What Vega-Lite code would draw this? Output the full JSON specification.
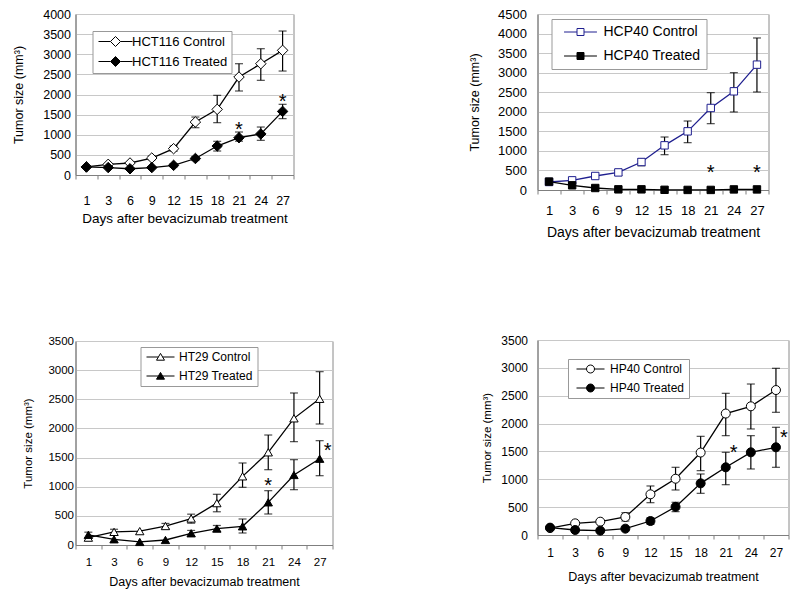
{
  "$schema": "https://vega.github.io/schema/vega-lite/v6.json",
  "background": "white",
  "padding": {"left": 11.5, "top": 7, "right": 5, "bottom": 5},
  "config": {
    "view": {"stroke": "#8a8a8a", "strokeWidth": 1},
    "font": "Liberation Sans",
    "axis": {"gridColor": "#c8c8c8", "domainColor": "#7f7f7f", "tickColor": "#7f7f7f", "labelColor": "black", "titleColor": "black", "titleFontWeight": "normal", "labelFont": "Liberation Sans", "titleFont": "Liberation Sans", "labelOverlap": false},
    "axisY": {"ticks": false, "grid": true, "titleBaseline": "middle", "format": "d"},
    "legend": {"labelFont": "Liberation Sans", "labelColor": "black", "strokeColor": "#999999", "fillColor": "white", "titleOrient": "left", "titleColor": "white"}
  },
  "datasets": {
    "p1": [
      {"day": 1, "series": "HCT116 Control", "size": 200},
      {"day": 3, "series": "HCT116 Control", "size": 265},
      {"day": 6, "series": "HCT116 Control", "size": 298},
      {"day": 9, "series": "HCT116 Control", "size": 422, "lo": 380, "hi": 470},
      {"day": 12, "series": "HCT116 Control", "size": 654, "lo": 590, "hi": 720},
      {"day": 15, "series": "HCT116 Control", "size": 1316, "lo": 1175, "hi": 1440},
      {"day": 18, "series": "HCT116 Control", "size": 1631, "lo": 1300, "hi": 1979},
      {"day": 21, "series": "HCT116 Control", "size": 2434, "lo": 2087, "hi": 2765},
      {"day": 24, "series": "HCT116 Control", "size": 2765, "lo": 2352, "hi": 3138},
      {"day": 27, "series": "HCT116 Control", "size": 3097, "lo": 2583, "hi": 3577},
      {"day": 1, "series": "HCT116 Treated", "size": 200},
      {"day": 3, "series": "HCT116 Treated", "size": 185},
      {"day": 6, "series": "HCT116 Treated", "size": 155},
      {"day": 9, "series": "HCT116 Treated", "size": 185},
      {"day": 12, "series": "HCT116 Treated", "size": 240, "lo": 200, "hi": 280},
      {"day": 15, "series": "HCT116 Treated", "size": 410, "lo": 360, "hi": 460},
      {"day": 18, "series": "HCT116 Treated", "size": 720, "lo": 596, "hi": 837},
      {"day": 21, "series": "HCT116 Treated", "size": 927, "lo": 840, "hi": 1068},
      {"day": 24, "series": "HCT116 Treated", "size": 1020, "lo": 861, "hi": 1192},
      {"day": 27, "series": "HCT116 Treated", "size": 1580, "lo": 1400, "hi": 1756}
    ],
    "p2": [
      {"day": 1, "series": "HCP40 Control", "size": 205},
      {"day": 3, "series": "HCP40 Control", "size": 247},
      {"day": 6, "series": "HCP40 Control", "size": 358},
      {"day": 9, "series": "HCP40 Control", "size": 450, "lo": 370, "hi": 520},
      {"day": 12, "series": "HCP40 Control", "size": 716, "lo": 620, "hi": 800},
      {"day": 15, "series": "HCP40 Control", "size": 1142, "lo": 903, "hi": 1355},
      {"day": 18, "series": "HCP40 Control", "size": 1500, "lo": 1210, "hi": 1764},
      {"day": 21, "series": "HCP40 Control", "size": 2097, "lo": 1696, "hi": 2489},
      {"day": 24, "series": "HCP40 Control", "size": 2523, "lo": 1995, "hi": 3000},
      {"day": 27, "series": "HCP40 Control", "size": 3205, "lo": 2506, "hi": 3887},
      {"day": 1, "series": "HCP40 Treated", "size": 215},
      {"day": 3, "series": "HCP40 Treated", "size": 120},
      {"day": 6, "series": "HCP40 Treated", "size": 51},
      {"day": 9, "series": "HCP40 Treated", "size": 17},
      {"day": 12, "series": "HCP40 Treated", "size": 17},
      {"day": 15, "series": "HCP40 Treated", "size": 5},
      {"day": 18, "series": "HCP40 Treated", "size": 2},
      {"day": 21, "series": "HCP40 Treated", "size": 2},
      {"day": 24, "series": "HCP40 Treated", "size": 15},
      {"day": 27, "series": "HCP40 Treated", "size": 15}
    ],
    "p3": [
      {"day": 1, "series": "HT29 Control", "size": 126},
      {"day": 3, "series": "HT29 Control", "size": 225, "lo": 170, "hi": 270},
      {"day": 6, "series": "HT29 Control", "size": 238},
      {"day": 9, "series": "HT29 Control", "size": 325, "lo": 280, "hi": 370},
      {"day": 12, "series": "HT29 Control", "size": 454, "lo": 374, "hi": 529},
      {"day": 15, "series": "HT29 Control", "size": 718, "lo": 570, "hi": 870},
      {"day": 18, "series": "HT29 Control", "size": 1178, "lo": 990, "hi": 1407},
      {"day": 21, "series": "HT29 Control", "size": 1590, "lo": 1292, "hi": 1887},
      {"day": 24, "series": "HT29 Control", "size": 2173, "lo": 1773, "hi": 2608},
      {"day": 27, "series": "HT29 Control", "size": 2508, "lo": 2076, "hi": 2974},
      {"day": 1, "series": "HT29 Treated", "size": 175, "lo": 120, "hi": 220},
      {"day": 3, "series": "HT29 Treated", "size": 98},
      {"day": 6, "series": "HT29 Treated", "size": 52},
      {"day": 9, "series": "HT29 Treated", "size": 86},
      {"day": 12, "series": "HT29 Treated", "size": 201, "lo": 150, "hi": 250},
      {"day": 15, "series": "HT29 Treated", "size": 282, "lo": 230, "hi": 335},
      {"day": 18, "series": "HT29 Treated", "size": 320, "lo": 206, "hi": 446},
      {"day": 21, "series": "HT29 Treated", "size": 732, "lo": 532, "hi": 932},
      {"day": 24, "series": "HT29 Treated", "size": 1201, "lo": 949, "hi": 1464},
      {"day": 27, "series": "HT29 Treated", "size": 1480, "lo": 1189, "hi": 1790}
    ],
    "p4": [
      {"day": 1, "series": "HP40 Control", "size": 125},
      {"day": 3, "series": "HP40 Control", "size": 209},
      {"day": 6, "series": "HP40 Control", "size": 239},
      {"day": 9, "series": "HP40 Control", "size": 323, "lo": 251, "hi": 400},
      {"day": 12, "series": "HP40 Control", "size": 730, "lo": 580, "hi": 880},
      {"day": 15, "series": "HP40 Control", "size": 1010, "lo": 808, "hi": 1215},
      {"day": 18, "series": "HP40 Control", "size": 1480, "lo": 1155, "hi": 1771},
      {"day": 21, "series": "HP40 Control", "size": 2180, "lo": 1783, "hi": 2543},
      {"day": 24, "series": "HP40 Control", "size": 2310, "lo": 1903, "hi": 2710},
      {"day": 27, "series": "HP40 Control", "size": 2602, "lo": 2202, "hi": 2992},
      {"day": 1, "series": "HP40 Treated", "size": 132},
      {"day": 3, "series": "HP40 Treated", "size": 90},
      {"day": 6, "series": "HP40 Treated", "size": 78},
      {"day": 9, "series": "HP40 Treated", "size": 114},
      {"day": 12, "series": "HP40 Treated", "size": 251, "lo": 191, "hi": 311},
      {"day": 15, "series": "HP40 Treated", "size": 505, "lo": 419, "hi": 587},
      {"day": 18, "series": "HP40 Treated", "size": 927, "lo": 748, "hi": 1095},
      {"day": 21, "series": "HP40 Treated", "size": 1215, "lo": 903, "hi": 1484},
      {"day": 24, "series": "HP40 Treated", "size": 1484, "lo": 1185, "hi": 1783},
      {"day": 27, "series": "HP40 Treated", "size": 1574, "lo": 1215, "hi": 1933}
    ],
    "s1": [{"day": 21, "y": 1250}, {"day": 27, "y": 1950}],
    "s2": [{"day": 21, "y": 550}, {"day": 27, "y": 550}],
    "s3c": [{"day": 21, "y": 1100}],
    "s3r": [{"day": 27, "y": 1700}],
    "s4r": [{"day": 21, "y": 1570}, {"day": 27, "y": 1830}]
  },
  "resolve": {"scale": {"x": "independent", "y": "independent", "fill": "independent", "stroke": "independent"}, "legend": {"fill": "independent", "stroke": "independent"}},
  "bounds": "full",
  "spacing": 134,
  "hconcat": [
    {
      "bounds": "flush",
      "spacing": 166,
      "resolve": {"scale": {"x": "independent", "y": "independent", "fill": "independent", "stroke": "independent"}, "legend": {"fill": "independent", "stroke": "independent"}},
      "vconcat": [
        {
          "width": 218, "height": 161,
          "data": {"name": "p1"},
          "encoding": {
            "x": {"field": "day", "type": "ordinal", "scale": {"type": "band", "paddingInner": 0, "paddingOuter": 0},
              "axis": {"title": "Days after bevacizumab treatment", "labelAngle": 0, "grid": false, "tickBand": "extent", "tickSize": 4, "labelFontSize": 12.5, "labelPadding": 15, "titleFontSize": 13.5, "titleY": 43, "titleBaseline": "middle"}}
          },
          "layer": [
            {"mark": {"type": "rule", "color": "black", "strokeWidth": 1.2},
              "encoding": {"y": {"field": "lo", "type": "quantitative", "scale": {"domain": [0, 4000], "nice": false},
                "axis": {"title": "Tumor size (mm³)", "values": [0, 500, 1000, 1500, 2000, 2500, 3000, 3500, 4000], "labelPadding": 5, "labelFontSize": 12.5, "titleFontSize": 12.5, "titleX": -57}},
                "y2": {"field": "hi"}}},
            {"mark": {"type": "tick", "color": "black", "size": 8, "thickness": 1.2, "orient": "horizontal"}, "encoding": {"y": {"field": "lo", "type": "quantitative",
                "axis": {"title": "Tumor size (mm³)", "values": [0, 500, 1000, 1500, 2000, 2500, 3000, 3500, 4000], "labelPadding": 5, "labelFontSize": 12.5, "titleFontSize": 12.5, "titleX": -57}}}},
            {"mark": {"type": "tick", "color": "black", "size": 8, "thickness": 1.2, "orient": "horizontal"}, "encoding": {"y": {"field": "hi", "type": "quantitative",
                "axis": {"title": "Tumor size (mm³)", "values": [0, 500, 1000, 1500, 2000, 2500, 3000, 3500, 4000], "labelPadding": 5, "labelFontSize": 12.5, "titleFontSize": 12.5, "titleX": -57}}}},
            {"mark": {"type": "line", "color": "black", "strokeWidth": 1.3}, "encoding": {"y": {"field": "size", "type": "quantitative",
                "axis": {"title": "Tumor size (mm³)", "values": [0, 500, 1000, 1500, 2000, 2500, 3000, 3500, 4000], "labelPadding": 5, "labelFontSize": 12.5, "titleFontSize": 12.5, "titleX": -57}}, "detail": {"field": "series"}}},
            {"mark": {"type": "point", "shape": "diamond", "filled": true, "stroke": "black", "strokeWidth": 1, "size": 110, "opacity": 1},
              "encoding": {"y": {"field": "size", "type": "quantitative",
                "axis": {"title": "Tumor size (mm³)", "values": [0, 500, 1000, 1500, 2000, 2500, 3000, 3500, 4000], "labelPadding": 5, "labelFontSize": 12.5, "titleFontSize": 12.5, "titleX": -57}},
                "fill": {"field": "series", "type": "nominal", "scale": {"domain": ["HCT116 Control", "HCT116 Treated"], "range": ["white", "black"]},
                  "legend": {"orient": "none", "legendX": 17, "legendY": 17, "title": "\u00a0", "titleFontSize": 13, "titlePadding": 0, "symbolType": "M-3.4,0H-1M1,0H3.4M0,-1L1,0L0,1L-1,0Z", "symbolSize": 100, "symbolStrokeColor": "black", "symbolStrokeWidth": 1, "labelFontSize": 13, "padding": 4, "rowPadding": 5, "symbolOffset": 12.5, "labelOffset": 10, "labelExpr": "datum.label + '\u00a0\u00a0'"}}}},
            {"data": {"name": "s1"}, "mark": {"type": "text", "text": "*", "fontSize": 20, "baseline": "middle", "dy": 5, "fill": "black"}, "encoding": {"y": {"field": "y", "type": "quantitative",
                "axis": {"title": "Tumor size (mm³)", "values": [0, 500, 1000, 1500, 2000, 2500, 3000, 3500, 4000], "labelPadding": 5, "labelFontSize": 12.5, "titleFontSize": 12.5, "titleX": -57}}}}
          ]
        },
        {
          "width": 257, "height": 204,
          "data": {"name": "p3"},
          "encoding": {
            "x": {"field": "day", "type": "ordinal", "scale": {"type": "band", "paddingInner": 0, "paddingOuter": 0},
              "axis": {"title": "Days after bevacizumab treatment", "labelAngle": 0, "grid": false, "tickBand": "extent", "tickSize": 4, "labelFontSize": 11.5, "labelPadding": 7, "titleFontSize": 12.5, "titleY": 36, "titleBaseline": "middle"}}
          },
          "layer": [
            {"mark": {"type": "rule", "color": "black", "strokeWidth": 1.2},
              "encoding": {"y": {"field": "lo", "type": "quantitative", "scale": {"domain": [0, 3500], "nice": false},
                "axis": {"title": "Tumor size (mm³)", "values": [0, 500, 1000, 1500, 2000, 2500, 3000, 3500], "labelPadding": 2, "labelFontSize": 11.5, "titleFontSize": 11.5, "titleX": -47}},
                "y2": {"field": "hi"}}},
            {"mark": {"type": "tick", "color": "black", "size": 8, "thickness": 1.2, "orient": "horizontal"}, "encoding": {"y": {"field": "lo", "type": "quantitative",
                "axis": {"title": "Tumor size (mm³)", "values": [0, 500, 1000, 1500, 2000, 2500, 3000, 3500], "labelPadding": 2, "labelFontSize": 11.5, "titleFontSize": 11.5, "titleX": -47}}}},
            {"mark": {"type": "tick", "color": "black", "size": 8, "thickness": 1.2, "orient": "horizontal"}, "encoding": {"y": {"field": "hi", "type": "quantitative",
                "axis": {"title": "Tumor size (mm³)", "values": [0, 500, 1000, 1500, 2000, 2500, 3000, 3500], "labelPadding": 2, "labelFontSize": 11.5, "titleFontSize": 11.5, "titleX": -47}}}},
            {"mark": {"type": "line", "color": "black", "strokeWidth": 1.3}, "encoding": {"y": {"field": "size", "type": "quantitative",
                "axis": {"title": "Tumor size (mm³)", "values": [0, 500, 1000, 1500, 2000, 2500, 3000, 3500], "labelPadding": 2, "labelFontSize": 11.5, "titleFontSize": 11.5, "titleX": -47}}, "detail": {"field": "series"}}},
            {"mark": {"type": "point", "shape": "triangle-up", "filled": true, "stroke": "black", "strokeWidth": 1, "size": 70, "opacity": 1},
              "encoding": {"y": {"field": "size", "type": "quantitative",
                "axis": {"title": "Tumor size (mm³)", "values": [0, 500, 1000, 1500, 2000, 2500, 3000, 3500], "labelPadding": 2, "labelFontSize": 11.5, "titleFontSize": 11.5, "titleX": -47}},
                "fill": {"field": "series", "type": "nominal", "scale": {"domain": ["HT29 Control", "HT29 Treated"], "range": ["white", "black"]},
                  "legend": {"orient": "none", "legendX": 65, "legendY": 6, "title": null, "symbolType": "M-3.5,0H-0.53M0.53,0H3.5M0,-0.9L1,0.8L-1,0.8Z", "symbolSize": 64, "symbolStrokeColor": "black", "symbolStrokeWidth": 1, "labelFontSize": 12, "padding": 4, "rowPadding": 7, "symbolOffset": 10, "labelOffset": 12.5}}}},
            {"data": {"name": "s3c"}, "mark": {"type": "text", "text": "*", "fontSize": 20, "baseline": "middle", "dy": 5, "fill": "black"}, "encoding": {"y": {"field": "y", "type": "quantitative",
                "axis": {"title": "Tumor size (mm³)", "values": [0, 500, 1000, 1500, 2000, 2500, 3000, 3500], "labelPadding": 2, "labelFontSize": 11.5, "titleFontSize": 11.5, "titleX": -47}}}},
            {"data": {"name": "s3r"}, "mark": {"type": "text", "text": "*", "fontSize": 20, "baseline": "middle", "dy": 5, "dx": 8, "fill": "black"}, "encoding": {"y": {"field": "y", "type": "quantitative",
                "axis": {"title": "Tumor size (mm³)", "values": [0, 500, 1000, 1500, 2000, 2500, 3000, 3500], "labelPadding": 2, "labelFontSize": 11.5, "titleFontSize": 11.5, "titleX": -47}}}}
          ]
        }
      ]
    },
    {
      "bounds": "flush",
      "spacing": 150,
      "resolve": {"scale": {"x": "independent", "y": "independent", "fill": "independent", "stroke": "independent"}, "legend": {"fill": "independent", "stroke": "independent"}},
      "vconcat": [
        {
          "width": 231, "height": 176,
          "data": {"name": "p2"},
          "encoding": {
            "x": {"field": "day", "type": "ordinal", "scale": {"type": "band", "paddingInner": 0, "paddingOuter": 0},
              "axis": {"title": "Days after bevacizumab treatment", "labelAngle": 0, "grid": false, "tickBand": "extent", "tickSize": 4, "labelFontSize": 13, "labelPadding": 10, "titleFontSize": 14, "titleY": 42, "titleBaseline": "middle"}}
          },
          "layer": [
            {"mark": {"type": "rule", "color": "black", "strokeWidth": 1.2},
              "encoding": {"y": {"field": "lo", "type": "quantitative", "scale": {"domain": [0, 4500], "nice": false},
                "axis": {"title": "Tumor size (mm³)", "values": [0, 500, 1000, 1500, 2000, 2500, 3000, 3500, 4000, 4500], "labelPadding": 11, "labelFontSize": 13, "titleFontSize": 12.5, "titleX": -63.5}},
                "y2": {"field": "hi"}}},
            {"mark": {"type": "tick", "color": "black", "size": 8, "thickness": 1.2, "orient": "horizontal"}, "encoding": {"y": {"field": "lo", "type": "quantitative",
                "axis": {"title": "Tumor size (mm³)", "values": [0, 500, 1000, 1500, 2000, 2500, 3000, 3500, 4000, 4500], "labelPadding": 11, "labelFontSize": 13, "titleFontSize": 12.5, "titleX": -63.5}}}},
            {"mark": {"type": "tick", "color": "black", "size": 8, "thickness": 1.2, "orient": "horizontal"}, "encoding": {"y": {"field": "hi", "type": "quantitative",
                "axis": {"title": "Tumor size (mm³)", "values": [0, 500, 1000, 1500, 2000, 2500, 3000, 3500, 4000, 4500], "labelPadding": 11, "labelFontSize": 13, "titleFontSize": 12.5, "titleX": -63.5}}}},
            {"transform": [{"filter": "datum.series === 'HCP40 Control'"}], "mark": {"type": "line", "color": "#1f1f8f", "strokeWidth": 1.3}, "encoding": {"y": {"field": "size", "type": "quantitative",
                "axis": {"title": "Tumor size (mm³)", "values": [0, 500, 1000, 1500, 2000, 2500, 3000, 3500, 4000, 4500], "labelPadding": 11, "labelFontSize": 13, "titleFontSize": 12.5, "titleX": -63.5}}}},
            {"transform": [{"filter": "datum.series === 'HCP40 Treated'"}], "mark": {"type": "line", "color": "black", "strokeWidth": 1.3}, "encoding": {"y": {"field": "size", "type": "quantitative",
                "axis": {"title": "Tumor size (mm³)", "values": [0, 500, 1000, 1500, 2000, 2500, 3000, 3500, 4000, 4500], "labelPadding": 11, "labelFontSize": 13, "titleFontSize": 12.5, "titleX": -63.5}}}},
            {"mark": {"type": "point", "shape": "square", "filled": true, "strokeWidth": 1, "size": 55, "opacity": 1},
              "encoding": {"y": {"field": "size", "type": "quantitative",
                "axis": {"title": "Tumor size (mm³)", "values": [0, 500, 1000, 1500, 2000, 2500, 3000, 3500, 4000, 4500], "labelPadding": 11, "labelFontSize": 13, "titleFontSize": 12.5, "titleX": -63.5}},
                "stroke": {"field": "series", "type": "nominal", "scale": {"domain": ["HCP40 Control", "HCP40 Treated"], "range": ["#1f1f8f", "black"]},
                  "legend": {"orient": "none", "legendX": 14, "legendY": 5, "title": "\u00a0\u00a0", "titleFontSize": 14, "titlePadding": 3, "symbolType": "M-4.7,0H-1M1,0H4.7M-1,-1H1V1H-1Z", "symbolSize": 49, "symbolStrokeWidth": 1, "labelFontSize": 14, "padding": 6, "rowPadding": 10, "symbolOffset": 13, "labelOffset": 16, "labelExpr": "datum.label + '\u00a0\u00a0\u00a0'"}},
                "fill": {"field": "series", "type": "nominal", "scale": {"domain": ["HCP40 Control", "HCP40 Treated"], "range": ["white", "black"]},
                  "legend": {"orient": "none", "legendX": 14, "legendY": 5, "title": "\u00a0\u00a0", "titleFontSize": 14, "titlePadding": 3, "symbolType": "M-4.7,0H-1M1,0H4.7M-1,-1H1V1H-1Z", "symbolSize": 49, "symbolStrokeWidth": 1, "labelFontSize": 14, "padding": 6, "rowPadding": 10, "symbolOffset": 13, "labelOffset": 16, "labelExpr": "datum.label + '\u00a0\u00a0\u00a0'"}}}},
            {"data": {"name": "s2"}, "mark": {"type": "text", "text": "*", "fontSize": 20, "baseline": "middle", "dy": 5, "fill": "black"}, "encoding": {"y": {"field": "y", "type": "quantitative",
                "axis": {"title": "Tumor size (mm³)", "values": [0, 500, 1000, 1500, 2000, 2500, 3000, 3500, 4000, 4500], "labelPadding": 11, "labelFontSize": 13, "titleFontSize": 12.5, "titleX": -63.5}}}}
          ]
        },
        {
          "width": 251, "height": 195,
          "data": {"name": "p4"},
          "encoding": {
            "x": {"field": "day", "type": "ordinal", "scale": {"type": "band", "paddingInner": 0, "paddingOuter": 0},
              "axis": {"title": "Days after bevacizumab treatment", "labelAngle": 0, "grid": false, "tickBand": "extent", "tickSize": 4, "labelFontSize": 12, "labelPadding": 8, "titleFontSize": 12.5, "titleY": 41, "titleBaseline": "middle"}}
          },
          "layer": [
            {"mark": {"type": "rule", "color": "black", "strokeWidth": 1.2},
              "encoding": {"y": {"field": "lo", "type": "quantitative", "scale": {"domain": [0, 3500], "nice": false},
                "axis": {"title": "Tumor size (mm³)", "values": [0, 500, 1000, 1500, 2000, 2500, 3000, 3500], "labelPadding": 10, "labelFontSize": 12, "titleFontSize": 11.5, "titleX": -50}},
                "y2": {"field": "hi"}}},
            {"mark": {"type": "tick", "color": "black", "size": 8, "thickness": 1.2, "orient": "horizontal"}, "encoding": {"y": {"field": "lo", "type": "quantitative",
                "axis": {"title": "Tumor size (mm³)", "values": [0, 500, 1000, 1500, 2000, 2500, 3000, 3500], "labelPadding": 10, "labelFontSize": 12, "titleFontSize": 11.5, "titleX": -50}}}},
            {"mark": {"type": "tick", "color": "black", "size": 8, "thickness": 1.2, "orient": "horizontal"}, "encoding": {"y": {"field": "hi", "type": "quantitative",
                "axis": {"title": "Tumor size (mm³)", "values": [0, 500, 1000, 1500, 2000, 2500, 3000, 3500], "labelPadding": 10, "labelFontSize": 12, "titleFontSize": 11.5, "titleX": -50}}}},
            {"mark": {"type": "line", "color": "black", "strokeWidth": 1.3}, "encoding": {"y": {"field": "size", "type": "quantitative",
                "axis": {"title": "Tumor size (mm³)", "values": [0, 500, 1000, 1500, 2000, 2500, 3000, 3500], "labelPadding": 10, "labelFontSize": 12, "titleFontSize": 11.5, "titleX": -50}}, "detail": {"field": "series"}}},
            {"mark": {"type": "point", "shape": "circle", "filled": true, "stroke": "black", "strokeWidth": 1, "size": 81, "opacity": 1},
              "encoding": {"y": {"field": "size", "type": "quantitative",
                "axis": {"title": "Tumor size (mm³)", "values": [0, 500, 1000, 1500, 2000, 2500, 3000, 3500], "labelPadding": 10, "labelFontSize": 12, "titleFontSize": 11.5, "titleX": -50}},
                "fill": {"field": "series", "type": "nominal", "scale": {"domain": ["HP40 Control", "HP40 Treated"], "range": ["white", "black"]},
                  "legend": {"orient": "none", "legendX": 30.5, "legendY": 19, "title": "\u00a0\u00a0\u00a0", "titleFontSize": 12, "titlePadding": 3, "symbolType": "M-3.5,0H-1M1,0H3.5M1,0A1,1,0,1,1,-1,0A1,1,0,1,1,1,0Z", "symbolSize": 64, "symbolStrokeColor": "black", "symbolStrokeWidth": 1, "labelFontSize": 12, "padding": 4, "rowPadding": 7, "symbolOffset": 9.5, "labelOffset": 13.5, "labelExpr": "datum.label + '\u00a0\u00a0\u00a0\u00a0\u00a0'"}}}},
            {"data": {"name": "s4r"}, "mark": {"type": "text", "text": "*", "fontSize": 20, "baseline": "middle", "dy": 5, "dx": 8, "fill": "black"}, "encoding": {"y": {"field": "y", "type": "quantitative",
                "axis": {"title": "Tumor size (mm³)", "values": [0, 500, 1000, 1500, 2000, 2500, 3000, 3500], "labelPadding": 10, "labelFontSize": 12, "titleFontSize": 11.5, "titleX": -50}}}}
          ]
        }
      ]
    }
  ]
}
